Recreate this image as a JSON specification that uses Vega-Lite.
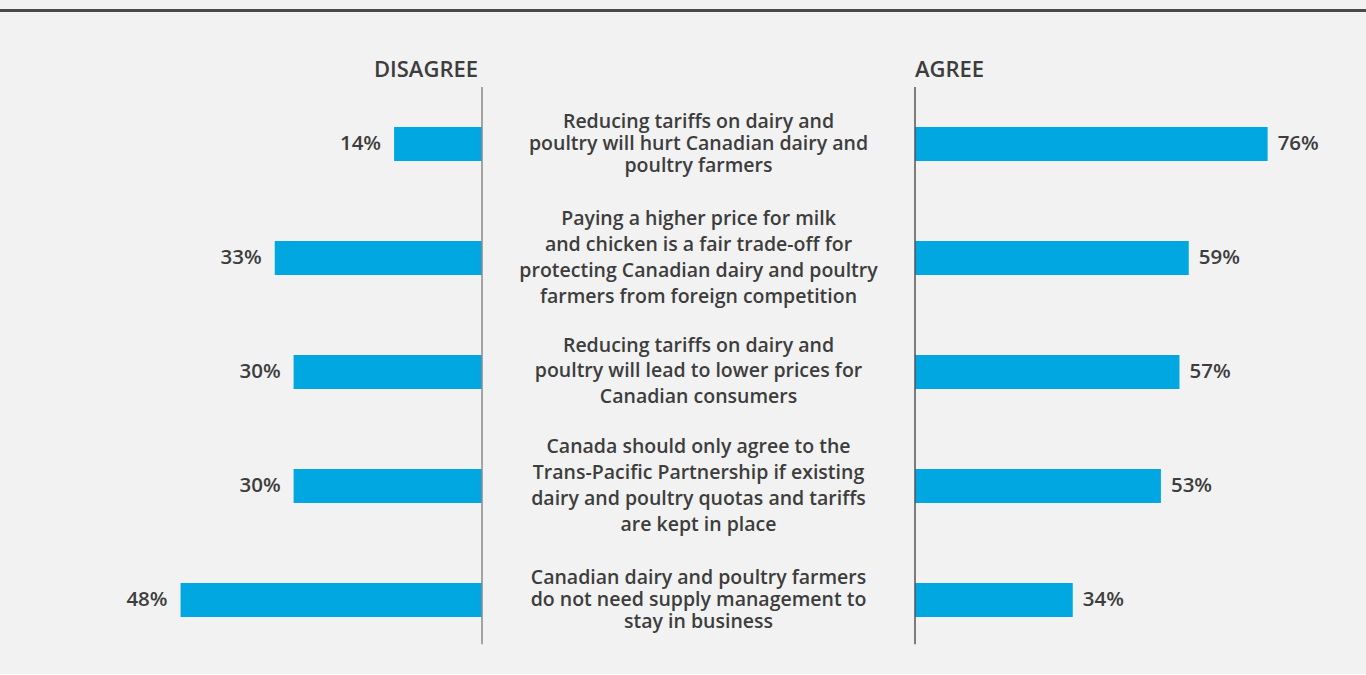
{
  "$schema": "https://vega.github.io/schema/vega-lite/v6.json",
  "background": "#f2f2f2",
  "padding": 0,
  "config": {
    "view": {"stroke": null},
    "font": "Open Sans",
    "text": {"font": "Open Sans", "fontSize": 19.5, "fontWeight": 600, "color": "#3d3d3d"}
  },
  "datasets": {
    "survey": [
      {"order": 0, "statement": "Reducing tariffs on dairy and\npoultry will hurt Canadian dairy and\npoultry farmers", "disagree": 0.14, "agree": 0.76},
      {"order": 1, "statement": "Paying a higher price for milk\nand chicken is a fair trade-off for\nprotecting Canadian dairy and poultry\nfarmers from foreign competition", "disagree": 0.33, "agree": 0.59},
      {"order": 2, "statement": "Reducing tariffs on dairy and\npoultry will lead to lower prices for\nCanadian consumers", "disagree": 0.30, "agree": 0.57},
      {"order": 3, "statement": "Canada should only agree to the\nTrans-Pacific Partnership if existing\ndairy and poultry quotas and tariffs\nare kept in place", "disagree": 0.30, "agree": 0.53},
      {"order": 4, "statement": "Canadian dairy and poultry farmers\ndo not need supply management to\nstay in business", "disagree": 0.48, "agree": 0.34}
    ]
  },
  "spacing": 18,
  "bounds": "flush",
  "vconcat": [
    {
      "width": 1366,
      "height": 12,
      "data": {"values": [{"y0": 0, "y1": 3}]},
      "mark": {"type": "rect", "color": "#4a4a4a"},
      "encoding": {
        "y": {"field": "y0", "type": "quantitative", "scale": {"domain": [0, 12], "nice": false}, "axis": null},
        "y2": {"field": "y1"}
      }
    },
    {
      "spacing": 0,
      "bounds": "flush",
      "hconcat": [
        {
          "width": 482,
          "height": 644,
          "layer": [
            {
              "data": {"name": "survey"},
              "mark": {"type": "bar", "color": "#00a7e1", "orient": "horizontal", "size": 34},
              "encoding": {
                "x": {"field": "disagree", "type": "quantitative", "scale": {"domain": [0, 0.7675], "reverse": true, "nice": false, "zero": true, "padding": 0}, "axis": null},
                "y": {"field": "order", "type": "quantitative", "scale": {"domain": [-1, 4.65], "reverse": true, "nice": false, "zero": false, "padding": 0}, "axis": null}
              }
            },
            {
              "data": {"name": "survey"},
              "mark": {"type": "text", "align": "right", "baseline": "middle", "dx": -13, "fontSize": 20.5},
              "encoding": {
                "x": {"field": "disagree", "type": "quantitative"},
                "y": {"field": "order", "type": "quantitative"},
                "text": {"field": "disagree", "type": "quantitative", "format": ".0%"}
              }
            },
            {
              "data": {"values": [{"x": 0, "y": -0.5, "y2": 4.39}]},
              "mark": {"type": "rule", "color": "#8a8a8a", "strokeWidth": 1.5},
              "encoding": {
                "x": {"field": "x", "type": "quantitative"},
                "y": {"field": "y", "type": "quantitative"},
                "y2": {"field": "y2"}
              }
            },
            {
              "data": {"values": [{"x": 0, "y": -0.65, "label": "DISAGREE"}]},
              "mark": {"type": "text", "align": "right", "baseline": "middle", "dx": -4, "fontSize": 22},
              "encoding": {
                "x": {"field": "x", "type": "quantitative"},
                "y": {"field": "y", "type": "quantitative"},
                "text": {"field": "label"}
              }
            }
          ]
        },
        {
          "width": 433,
          "height": 644,
          "data": {"name": "survey"},
          "layer": [
            {
              "transform": [{"filter": {"field": "order", "oneOf": [0, 4]}}],
              "mark": {"type": "text", "align": "center", "baseline": "middle", "lineHeight": 22, "lineBreak": "\n", "dy": -22},
              "encoding": {
                "y": {"field": "order", "type": "quantitative", "scale": {"domain": [-1, 4.65], "reverse": true, "nice": false, "zero": false, "padding": 0}, "axis": null},
                "text": {"field": "statement"}
              }
            },
            {
              "transform": [{"filter": {"field": "order", "oneOf": [2]}}],
              "mark": {"type": "text", "align": "center", "baseline": "middle", "lineHeight": 25.5, "lineBreak": "\n", "dy": -26},
              "encoding": {
                "y": {"field": "order", "type": "quantitative"},
                "text": {"field": "statement"}
              }
            },
            {
              "transform": [{"filter": {"field": "order", "oneOf": [1, 3]}}],
              "mark": {"type": "text", "align": "center", "baseline": "middle", "lineHeight": 26, "lineBreak": "\n", "dy": -39},
              "encoding": {
                "y": {"field": "order", "type": "quantitative"},
                "text": {"field": "statement"}
              }
            }
          ]
        },
        {
          "width": 451,
          "height": 644,
          "layer": [
            {
              "data": {"name": "survey"},
              "mark": {"type": "bar", "color": "#00a7e1", "orient": "horizontal", "size": 34},
              "encoding": {
                "x": {"field": "agree", "type": "quantitative", "scale": {"domain": [0, 0.972], "nice": false, "zero": true, "padding": 0}, "axis": null},
                "y": {"field": "order", "type": "quantitative", "scale": {"domain": [-1, 4.65], "reverse": true, "nice": false, "zero": false, "padding": 0}, "axis": null}
              }
            },
            {
              "data": {"name": "survey"},
              "mark": {"type": "text", "align": "left", "baseline": "middle", "dx": 10, "fontSize": 20.5},
              "encoding": {
                "x": {"field": "agree", "type": "quantitative"},
                "y": {"field": "order", "type": "quantitative"},
                "text": {"field": "agree", "type": "quantitative", "format": ".0%"}
              }
            },
            {
              "data": {"values": [{"x": 0, "y": -0.5, "y2": 4.39}]},
              "mark": {"type": "rule", "color": "#555555", "strokeWidth": 1.5},
              "encoding": {
                "x": {"field": "x", "type": "quantitative"},
                "y": {"field": "y", "type": "quantitative"},
                "y2": {"field": "y2"}
              }
            },
            {
              "data": {"values": [{"x": 0, "y": -0.65, "label": "AGREE"}]},
              "mark": {"type": "text", "align": "left", "baseline": "middle", "dx": 0, "fontSize": 22},
              "encoding": {
                "x": {"field": "x", "type": "quantitative"},
                "y": {"field": "y", "type": "quantitative"},
                "text": {"field": "label"}
              }
            }
          ]
        }
      ]
    }
  ]
}
